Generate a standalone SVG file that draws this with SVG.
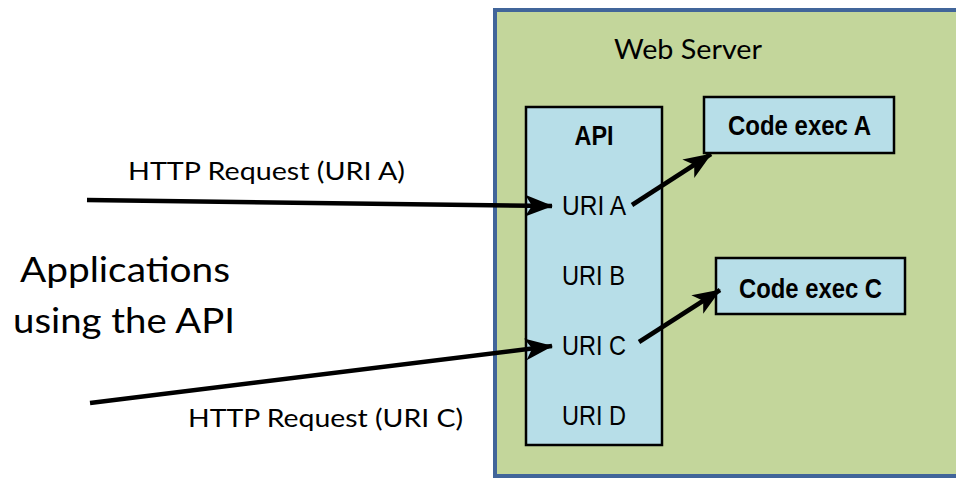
<svg xmlns="http://www.w3.org/2000/svg" width="956" height="478" viewBox="0 0 956 478">
<defs>
<style>
.cal{font-family:Lato,"Open Sans","Noto Sans",sans-serif;fill:#000}
.ari{font-family:"Liberation Sans",Arial,sans-serif;fill:#000}
.b{font-weight:bold}
.box{fill:#b7dee8;stroke:#000;stroke-width:2.5}
.conn{stroke:#000;stroke-width:4.5;fill:none;marker-end:url(#ah)}
</style>
<marker id="ah" markerUnits="userSpaceOnUse" markerWidth="30" markerHeight="24" viewBox="0 0 30 24" refX="27" refY="12" orient="auto">
<path d="M0,1 L28,12 L0,23 L7,12 z" fill="#000"/>
</marker>
</defs>
<rect width="956" height="478" fill="#fff"/>
<g id="webserver">
<rect x="495" y="10" width="470" height="466" fill="#c3d69b" stroke="#41659a" stroke-width="4"/>
<text class="cal" x="614" y="59" font-size="27" textLength="148" lengthAdjust="spacingAndGlyphs">Web Server</text>
</g>
<g id="api">
<rect class="box" x="526" y="107" width="136" height="338"/>
<text class="ari b" x="594" y="145" font-size="27" text-anchor="middle" textLength="39" lengthAdjust="spacingAndGlyphs">API</text>
<text class="ari" x="562" y="215" font-size="28" textLength="64" lengthAdjust="spacingAndGlyphs">URI A</text>
<text class="ari" x="562" y="285" font-size="28" textLength="63" lengthAdjust="spacingAndGlyphs">URI B</text>
<text class="ari" x="562" y="355" font-size="28" textLength="64" lengthAdjust="spacingAndGlyphs">URI C</text>
<text class="ari" x="562" y="425" font-size="28" textLength="64" lengthAdjust="spacingAndGlyphs">URI D</text>
</g>
<g id="codeA">
<rect class="box" x="704" y="97" width="190" height="56"/>
<text class="ari b" x="728" y="135" font-size="28" textLength="143" lengthAdjust="spacingAndGlyphs">Code exec A</text>
</g>
<g id="codeC">
<rect class="box" x="716" y="258" width="189" height="56"/>
<text class="ari b" x="739" y="298" font-size="28" textLength="143" lengthAdjust="spacingAndGlyphs">Code exec C</text>
</g>
<g id="apps">
<text class="cal" x="20" y="282" font-size="35" textLength="210" lengthAdjust="spacingAndGlyphs">Applications</text>
<text class="cal" x="13" y="333" font-size="35" textLength="222" lengthAdjust="spacingAndGlyphs">using the API</text>
</g>
<g id="labels">
<text class="cal" x="128" y="180" font-size="25" textLength="277" lengthAdjust="spacingAndGlyphs">HTTP Request (URI A)</text>
<text class="cal" x="188" y="427" font-size="25" textLength="275" lengthAdjust="spacingAndGlyphs">HTTP Request (URI C)</text>
</g>
<g id="connectors">
<line class="conn" x1="87" y1="200" x2="552" y2="206"/>
<line class="conn" x1="90" y1="403" x2="552" y2="346"/>
<line class="conn" x1="632" y1="205" x2="711" y2="154"/>
<line class="conn" x1="639" y1="342" x2="720" y2="290"/>
</g>
</svg>
